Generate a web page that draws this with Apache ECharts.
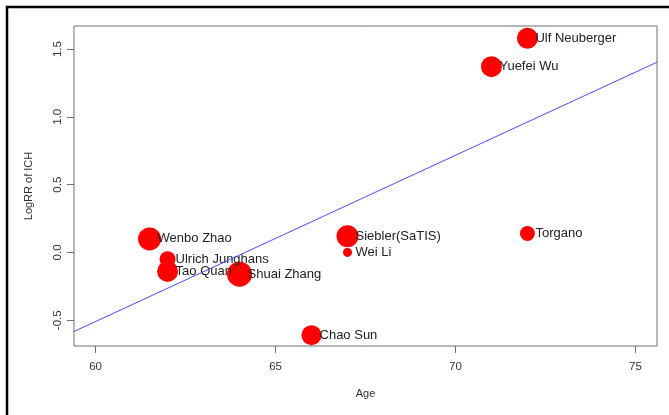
<!DOCTYPE html>
<html>
<head>
<meta charset="utf-8">
<script src="https://cdn.jsdelivr.net/npm/echarts@6/dist/echarts.min.js"></script>
<style>
html,body{margin:0;padding:0;background:#fff;}
#chart{width:669px;height:415px;}
</style>
</head>
<body>
<div id="chart"></div>
<script>
// Study data
var studies = ['Wenbo Zhao','Ulrich Junghans','Tao Quan','Shuai Zhang','Siebler(SaTIS)','Wei Li','Torgano','Chao Sun','Ulf Neuberger','Yuefei Wu'];
var ages    = [61.5, 62, 62, 64, 67, 67, 72, 66, 72, 71];
var logRR   = [0.10, -0.05, -0.14, -0.16, 0.12, 0.0, 0.14, -0.61, 1.58, 1.37];
var weights = [23, 16, 21, 25, 22, 9, 15, 20, 21, 21];
// Fitted regression line endpoints (read at the plot edges)
var fitX = [59.4, 75.6];
var fitY = [-0.583, 1.403];
// Tick values
var xTicks = [60, 65, 70, 75];
var yTicks = [-0.5, 0, 0.5, 1, 1.5];

var chart = echarts.init(document.getElementById('chart'), null, {renderer:'canvas'});

var LABEL_GAP = 8;
var pts = studies.map(function(n,i){
  var d = weights[i];
  return {name:n, value:[ages[i], logRR[i]], symbolSize:d,
          label:{position:[d/2 + LABEL_GAP, d/2]}};
});
var linePts = fitX.map(function(x,i){ return [x, fitY[i]]; });

var FONT = 'Liberation Sans, Arial, Helvetica, sans-serif';
var boxColor = '#6e6e6e';

chart.setOption({
  animation:false,
  backgroundColor:'#fff',
  graphic:[{
    type:'rect', shape:{x:7, y:7, width:720, height:520},
    style:{fill:null, stroke:'#000', lineWidth:2.5}, z:100, silent:true
  }],
  grid:{left:74, right:12, top:26, bottom:69, show:true, borderColor:boxColor, borderWidth:1, backgroundColor:'transparent'},
  xAxis:{
    type:'value', min:59.4, max:75.6,
    name:'Age', nameLocation:'middle', nameGap:42,
    nameTextStyle:{fontFamily:FONT, fontSize:11, color:'#333'},
    axisLine:{show:false, onZero:false},
    splitLine:{show:false},
    axisTick:{show:true, inside:false, length:7, customValues:xTicks, lineStyle:{color:boxColor}},
    axisLabel:{customValues:xTicks, margin:15, fontFamily:FONT, fontSize:11.5, color:'#333'}
  },
  yAxis:{
    type:'value', min:-0.69, max:1.67,
    name:'LogRR of ICH', nameLocation:'middle', nameGap:40, nameRotate:90,
    nameTextStyle:{fontFamily:FONT, fontSize:11, color:'#333'},
    axisLine:{show:false, onZero:false},
    splitLine:{show:false},
    axisTick:{show:true, inside:false, length:7, customValues:yTicks, lineStyle:{color:boxColor}},
    axisLabel:{customValues:yTicks, rotate:90, margin:10, fontFamily:FONT, fontSize:11.5, color:'#333',
      formatter:function(v){ return v.toFixed(1); }}
  },
  series:[
    {
      type:'line', data:linePts, symbol:'none', silent:true,
      lineStyle:{color:'#4a4aff', width:1}, z:3
    },
    {
      type:'scatter', data:pts, symbol:'circle',
      itemStyle:{color:'#ff0000', opacity:1},
      label:{show:true, formatter:'{b}', align:'left', verticalAlign:'middle',
        fontFamily:FONT, fontSize:13, color:'#222'},
      labelLayout:{hideOverlap:false},
      z:2
    }
  ]
});
</script>
</body>
</html>
